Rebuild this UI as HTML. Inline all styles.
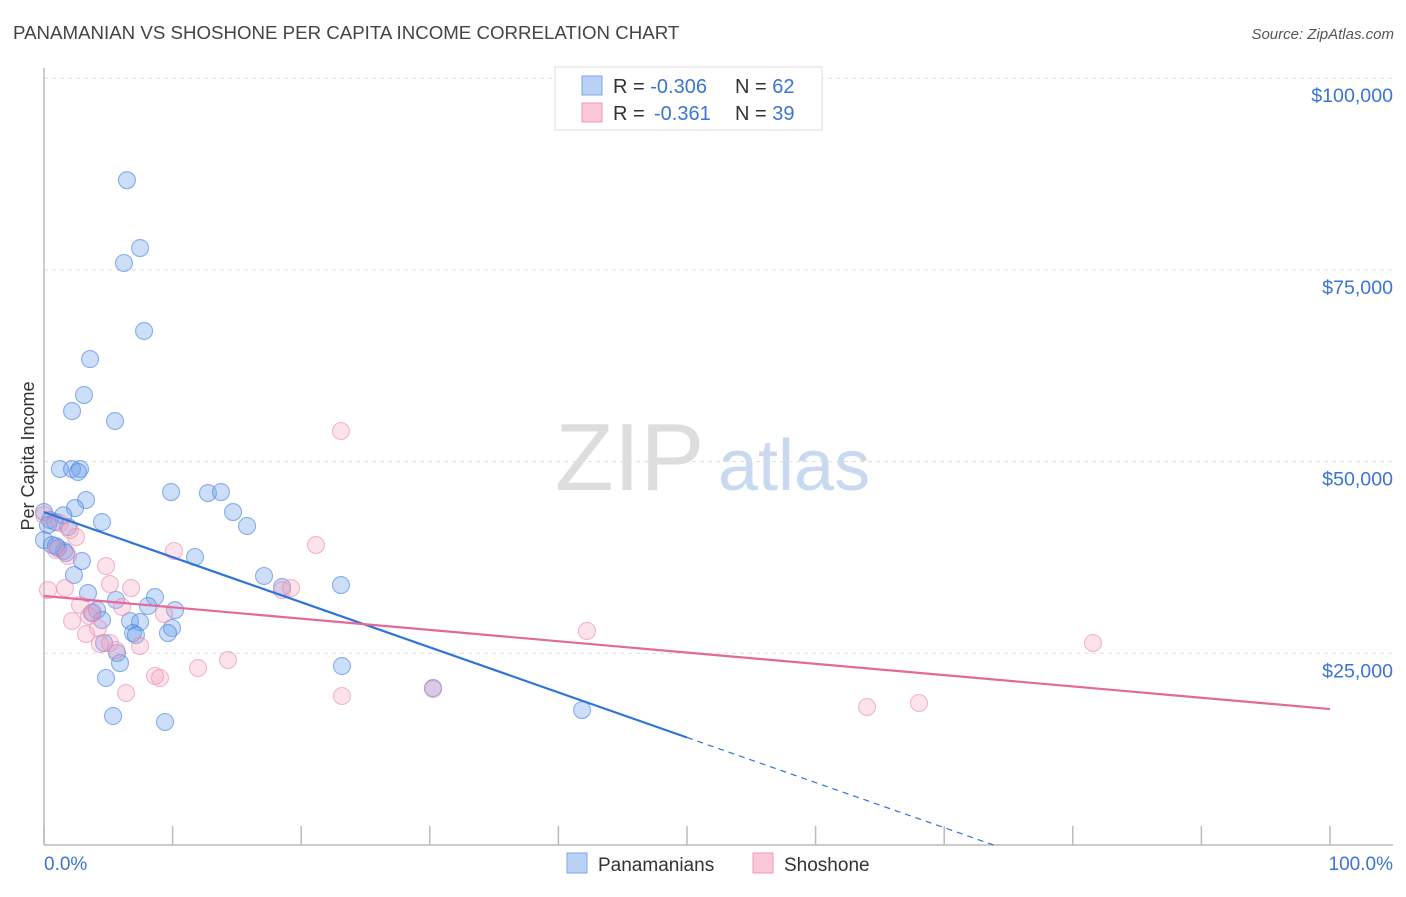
<!DOCTYPE html>
<html><head><meta charset="utf-8"><style>
body{margin:0;background:#fff;font-family:"Liberation Sans",sans-serif;}
svg text{font-family:"Liberation Sans",sans-serif;}
</style></head><body>
<svg id="chart" width="1406" height="892" xmlns="http://www.w3.org/2000/svg">
<text x="13" y="39" font-size="18.7" fill="#444">PANAMANIAN VS SHOSHONE PER CAPITA INCOME CORRELATION CHART</text>
<text x="1394" y="39" font-size="15" fill="#555" text-anchor="end" font-style="italic">Source: ZipAtlas.com</text>
<text transform="translate(34,456) rotate(-90)" font-size="18" fill="#333" text-anchor="middle">Per Capita Income</text>
<g><text x="555" y="490" font-size="96" fill="#ddd" font-family="Liberation Serif">ZIP</text><text x="718" y="490" font-size="72" fill="#c9d9ef">atlas</text></g>
<g id="grid"></g><g id="axes"></g><g id="marks"></g>
<g>
<rect x="555" y="67" width="267" height="63" fill="#fff" stroke="#ddd"/>
<rect x="582" y="76" width="20" height="19" fill="#b9d1f5" stroke="#7ea7e6"/>
<rect x="582" y="103" width="20" height="19" fill="#fac8d7" stroke="#ef9ab5"/>
<text x="613" y="93" font-size="20" fill="#333">R = <tspan fill="#3a74d8">-0.306</tspan><tspan x="735">N = </tspan><tspan fill="#3a74d8">62</tspan></text>
<text x="613" y="120" font-size="20" fill="#333">R = <tspan x="654" fill="#3a74d8">-0.361</tspan><tspan x="735">N = </tspan><tspan fill="#3a74d8">39</tspan></text>
</g>
<g>
<rect x="567" y="853" width="20" height="20" fill="#b9d1f5" stroke="#7ea7e6"/>
<text x="598" y="871" font-size="19" fill="#333">Panamanians</text>
<rect x="753" y="853" width="20" height="20" fill="#fac8d7" stroke="#ef9ab5"/>
<text x="784" y="871" font-size="19" fill="#333">Shoshone</text>
</g>
</svg>
<script>
const blueX=[6.45,7.47,6.22,7.78,3.58,3.11,2.18,5.52,1.24,2.18,2.80,2.64,9.88,12.75,13.76,3.27,2.41,14.70,15.79,4.51,0,0.47,0.86,1.87,0,1.09,1.56,1.71,2.95,11.74,2.33,17.11,18.51,23.09,3.42,5.60,8.63,8.09,4.12,10.19,3.73,4.51,6.69,7.47,9.95,9.64,6.92,7.15,4.67,5.68,5.91,23.17,4.82,30.25,5.37,9.41,41.84,0.62,0.31,0.93,1.5];
const blueY=[86700,77850,75900,67030,63370,58680,56590,55290,49030,49030,49030,48640,46030,45900,46030,44990,43940,43420,41600,42120,43420,42380,42120,41470,39770,38730,38340,38080,37030,37560,35210,35080,33640,33900,32860,31950,32340,31170,30640,30640,30250,29340,29210,29080,28300,27640,27640,27380,26340,25040,23730,23340,21780,20470,16820,16040,17600,39120,41730,38990,43000];
const pinkX=[23.09,10.11,21.15,2.49,1.87,4.82,0.31,1.63,5.13,6.77,2.80,6.07,3.81,9.33,2.18,3.50,4.20,3.27,4.35,7.47,5.13,5.60,18.51,19.21,14.31,11.98,8.63,9.02,6.38,23.17,30.25,42.22,81.57,64.00,68.04,1.24,0,0.93,2.02];
const pinkY=[53990,38340,39120,40160,37690,36380,33250,33510,34030,33510,31300,31040,30380,30120,29210,29860,28300,27510,26210,25950,26340,25430,33250,33510,24120,23080,22040,21780,19820,19430,20340,27910,26340,18000,18520,41990,43030,38470,41080];
const blueTrend=[43420,-588];
const pinkTrend=[32470,-147.4];
const yTicks=[25000,50000,75000,100000];
const yTickLabels=["$25,000","$50,000","$75,000","$100,000"];
const xTicks=[0,10,20,30,40,50,60,70,80,90,100];
const NS="http://www.w3.org/2000/svg";
const X=p=>44+p*12.86, Y=v=>845-v/25000*191.7;
function mk(tag,attrs,parent){const e=document.createElementNS(NS,tag);for(const k in attrs)e.setAttribute(k,attrs[k]);document.getElementById(parent).appendChild(e);return e;}
yTicks.forEach((v,i)=>{
 const g=mk('line',{x1:44,x2:1393,y1:Y(v),y2:Y(v),stroke:'#ddd','stroke-dasharray':'4,4'},'grid');
 
 
 const t=mk('text',{x:1393,y:Y(v)+24,'font-size':19.6,fill:'#3a74d8','text-anchor':'end'},'grid');
 t.textContent=yTickLabels[i];
 
 
});
const ax=mk('line',{x1:44,x2:44,y1:68,y2:845,stroke:'#bbb','stroke-width':1.5},'axes');


const bx=mk('line',{x1:44,x2:1393,y1:845,y2:845,stroke:'#bbb','stroke-width':1.5},'axes');


xTicks.forEach(p=>{const t=mk('line',{x1:X(p),x2:X(p),y1:826,y2:845,stroke:'#bbb','stroke-width':1.5},'axes');
 
 });
const l0=mk('text',{x:44,y:870,'font-size':19,fill:'#3a74d8'},'axes');l0.textContent='0.0%';


const l1=mk('text',{x:1393,y:870,'font-size':19,fill:'#3a74d8','text-anchor':'end'},'axes');l1.textContent='100.0%';


blueX.forEach((p,i)=>{const c=mk('circle',{cx:X(p),cy:Y(blueY[i]),r:8.5,fill:'rgba(110,160,235,0.35)',stroke:'rgba(70,130,225,0.6)','stroke-width':1.1},'marks');
 
 });
pinkX.forEach((p,i)=>{const c=mk('circle',{cx:X(p),cy:Y(pinkY[i]),r:8.5,fill:'rgba(245,160,190,0.3)',stroke:'rgba(235,130,165,0.55)','stroke-width':1.1},'marks');
 
 });
const bEnd=50, bZero=-blueTrend[0]/blueTrend[1];
const bl=mk('line',{x1:X(0),y1:Y(blueTrend[0]),x2:X(bEnd),y2:Y(blueTrend[0]+blueTrend[1]*bEnd),stroke:'#2f74d8','stroke-width':2.2},'marks');


const bd=mk('line',{x1:X(bEnd),y1:Y(blueTrend[0]+blueTrend[1]*bEnd),x2:X(bZero),y2:Y(0),stroke:'#2f74d8','stroke-width':1.2,'stroke-dasharray':'6,5'},'marks');


const pl=mk('line',{x1:X(0),y1:Y(pinkTrend[0]),x2:X(100),y2:Y(pinkTrend[0]+pinkTrend[1]*100),stroke:'#e4689a','stroke-width':2.2},'marks');


</script>
</body></html>
